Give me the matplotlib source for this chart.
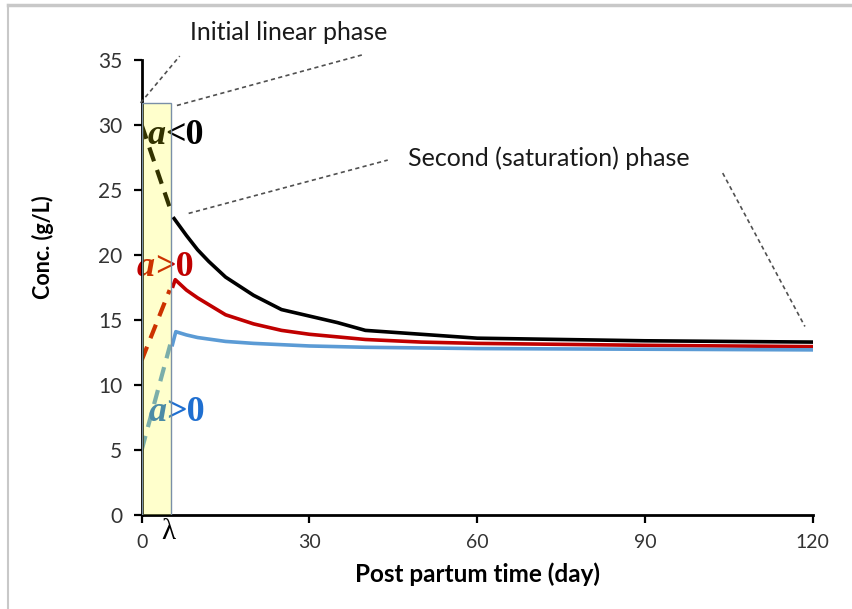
import matplotlib
matplotlib.use("Agg")
import matplotlib.pyplot as plt
from matplotlib.patches import Rectangle
from matplotlib.lines import Line2D

# ---- data ----
# initial linear phase (dashed)
t_init_black = [0, 5.3]
c_init_black = [30.0, 23.3]
t_init_red = [0, 5.0]
c_init_red = [11.9, 17.3]
t_init_blue = [0, 5.1]
c_init_blue = [5.0, 13.1]

# second (saturation) phase (solid)
t_black = [5.8, 8, 10, 12, 15, 20, 25, 30, 35, 40, 50, 60, 75, 90, 105, 120]
c_black = [22.8, 21.5, 20.4, 19.5, 18.3, 16.9, 15.8, 15.3, 14.8, 14.2, 13.9, 13.6, 13.5, 13.4, 13.35, 13.3]
t_red = [5.6, 6.0, 8, 10, 15, 20, 25, 30, 40, 50, 60, 90, 120]
c_red = [17.6, 18.1, 17.3, 16.7, 15.4, 14.7, 14.2, 13.9, 13.5, 13.3, 13.2, 13.05, 12.95]
t_blue = [5.5, 6.1, 8, 10, 15, 20, 30, 40, 60, 90, 120]
c_blue = [13.1, 14.1, 13.85, 13.65, 13.35, 13.2, 13.0, 12.9, 12.8, 12.75, 12.7]

lambda_day = 5.3
box_top = 31.7
x_ticks = [0, 30, 60, 90, 120]
y_ticks = [0, 5, 10, 15, 20, 25, 30, 35]

BLACK = "#000000"
RED = "#C00000"
BLUE = "#5B9BD5"
BLUE_TXT = "#1F6FD0"

sans = ["Lato", "DejaVu Sans"]
serif = ["Liberation Serif", "DejaVu Serif"]

fig = plt.figure(figsize=(8.53, 6.09), dpi=100)
ax = fig.add_axes([0.1661, 0.1544, 0.9528 - 0.1661, 0.9015 - 0.1544])

# figure frame (top and left grey lines)
fig.add_artist(Line2D([8 / 853, 8 / 853], [0, 1 - 5 / 609], color="#C8C8C8", lw=1.5,
                      transform=fig.transFigure))
fig.add_artist(Line2D([8 / 853, 1], [1 - 5 / 609, 1 - 5 / 609], color="#C8C8C8", lw=2.5,
                      transform=fig.transFigure))

# dashed initial phase
ax.plot(t_init_black, c_init_black, color=BLACK, lw=3, dashes=(3.5, 2.2), zorder=2)
ax.plot(t_init_red, c_init_red, color=RED, lw=3, dashes=(3.5, 2.2), zorder=2)
ax.plot(t_init_blue, c_init_blue, color=BLUE, lw=3, dashes=(3.5, 2.2), zorder=2)

# solid saturation phase
ax.plot(t_black, c_black, color=BLACK, lw=2.6, zorder=3)
ax.plot(t_red, c_red, color=RED, lw=2.6, zorder=3)
ax.plot(t_blue, c_blue, color=BLUE, lw=2.6, zorder=3)


def put_label(x, y, sign, color):
    ta = ax.text(x, y, "a", fontsize=26, color=color, va="center", ha="left",
                 family=serif, style="italic", fontweight="bold", zorder=2)
    ax.annotate(sign, xy=(1, 0), xycoords=ta, va="bottom", ha="left", fontsize=26,
                color=color, family=serif, fontweight="bold", zorder=2)


# curve labels (under the yellow box so they get tinted)
put_label(1.0, 29.2, "<0", BLACK)
put_label(-0.9, 19.0, ">0", RED)
put_label(1.2, 7.9, ">0", BLUE_TXT)

# yellow box for initial linear phase
ax.add_patch(Rectangle((0, 0), lambda_day, box_top, facecolor="#FFFF00", alpha=0.2,
                       edgecolor="none", zorder=4))
ax.add_patch(Rectangle((0, 0), lambda_day, box_top, facecolor="none",
                       edgecolor="#7A8FA8", lw=1.0, zorder=4))

# annotation dashed leaders
lead = dict(color="#505050", lw=1.2, dashes=(2.5, 2), clip_on=False, zorder=5)
ax.plot([-0.2, 6.8], [31.7, 35.3], **lead)
ax.plot([6.3, 39.5], [31.5, 35.4], **lead)
ax.plot([8.4, 44.0], [23.2, 27.3], **lead)
ax.plot([103.9, 118.6], [26.3, 14.5], **lead)

fig.text(190 / 853, 1 - 32 / 609, "Initial linear phase", family=sans, fontsize=18,
         color="#1A1A1A", va="center", ha="left")
fig.text(408 / 853, 1 - 158 / 609, "Second (saturation) phase", family=sans, fontsize=18,
         color="#1A1A1A", va="center", ha="left")

# lambda mark
ax.text(lambda_day - 0.5, -1.3, "λ", fontsize=21, family=serif, ha="center", va="center",
        clip_on=False)

# axes styling
ax.set_xlim(0, 120)
ax.set_ylim(0, 35)
ax.set_xticks(x_ticks)
ax.set_yticks(y_ticks)
ax.set_xticklabels([str(v) for v in x_ticks], family=sans, fontsize=14, color="#333333")
ax.set_yticklabels([str(v) for v in y_ticks], family=sans, fontsize=15, color="#333333")
for s in ["top", "right"]:
    ax.spines[s].set_visible(False)
for s in ["left", "bottom"]:
    ax.spines[s].set_linewidth(2)
ax.tick_params(axis="both", direction="out", length=6, width=1.6, pad=8)
ax.set_xlabel("Post partum time (day)", family=sans, fontsize=17.5, fontweight="bold",
              labelpad=8)
fig.text(43 / 853, 1 - 247 / 609, "Conc. (g/L)", family=sans, fontsize=15.5,
         fontweight="bold", rotation=90, ha="center", va="center")

fig.savefig("out.png", dpi=100)
